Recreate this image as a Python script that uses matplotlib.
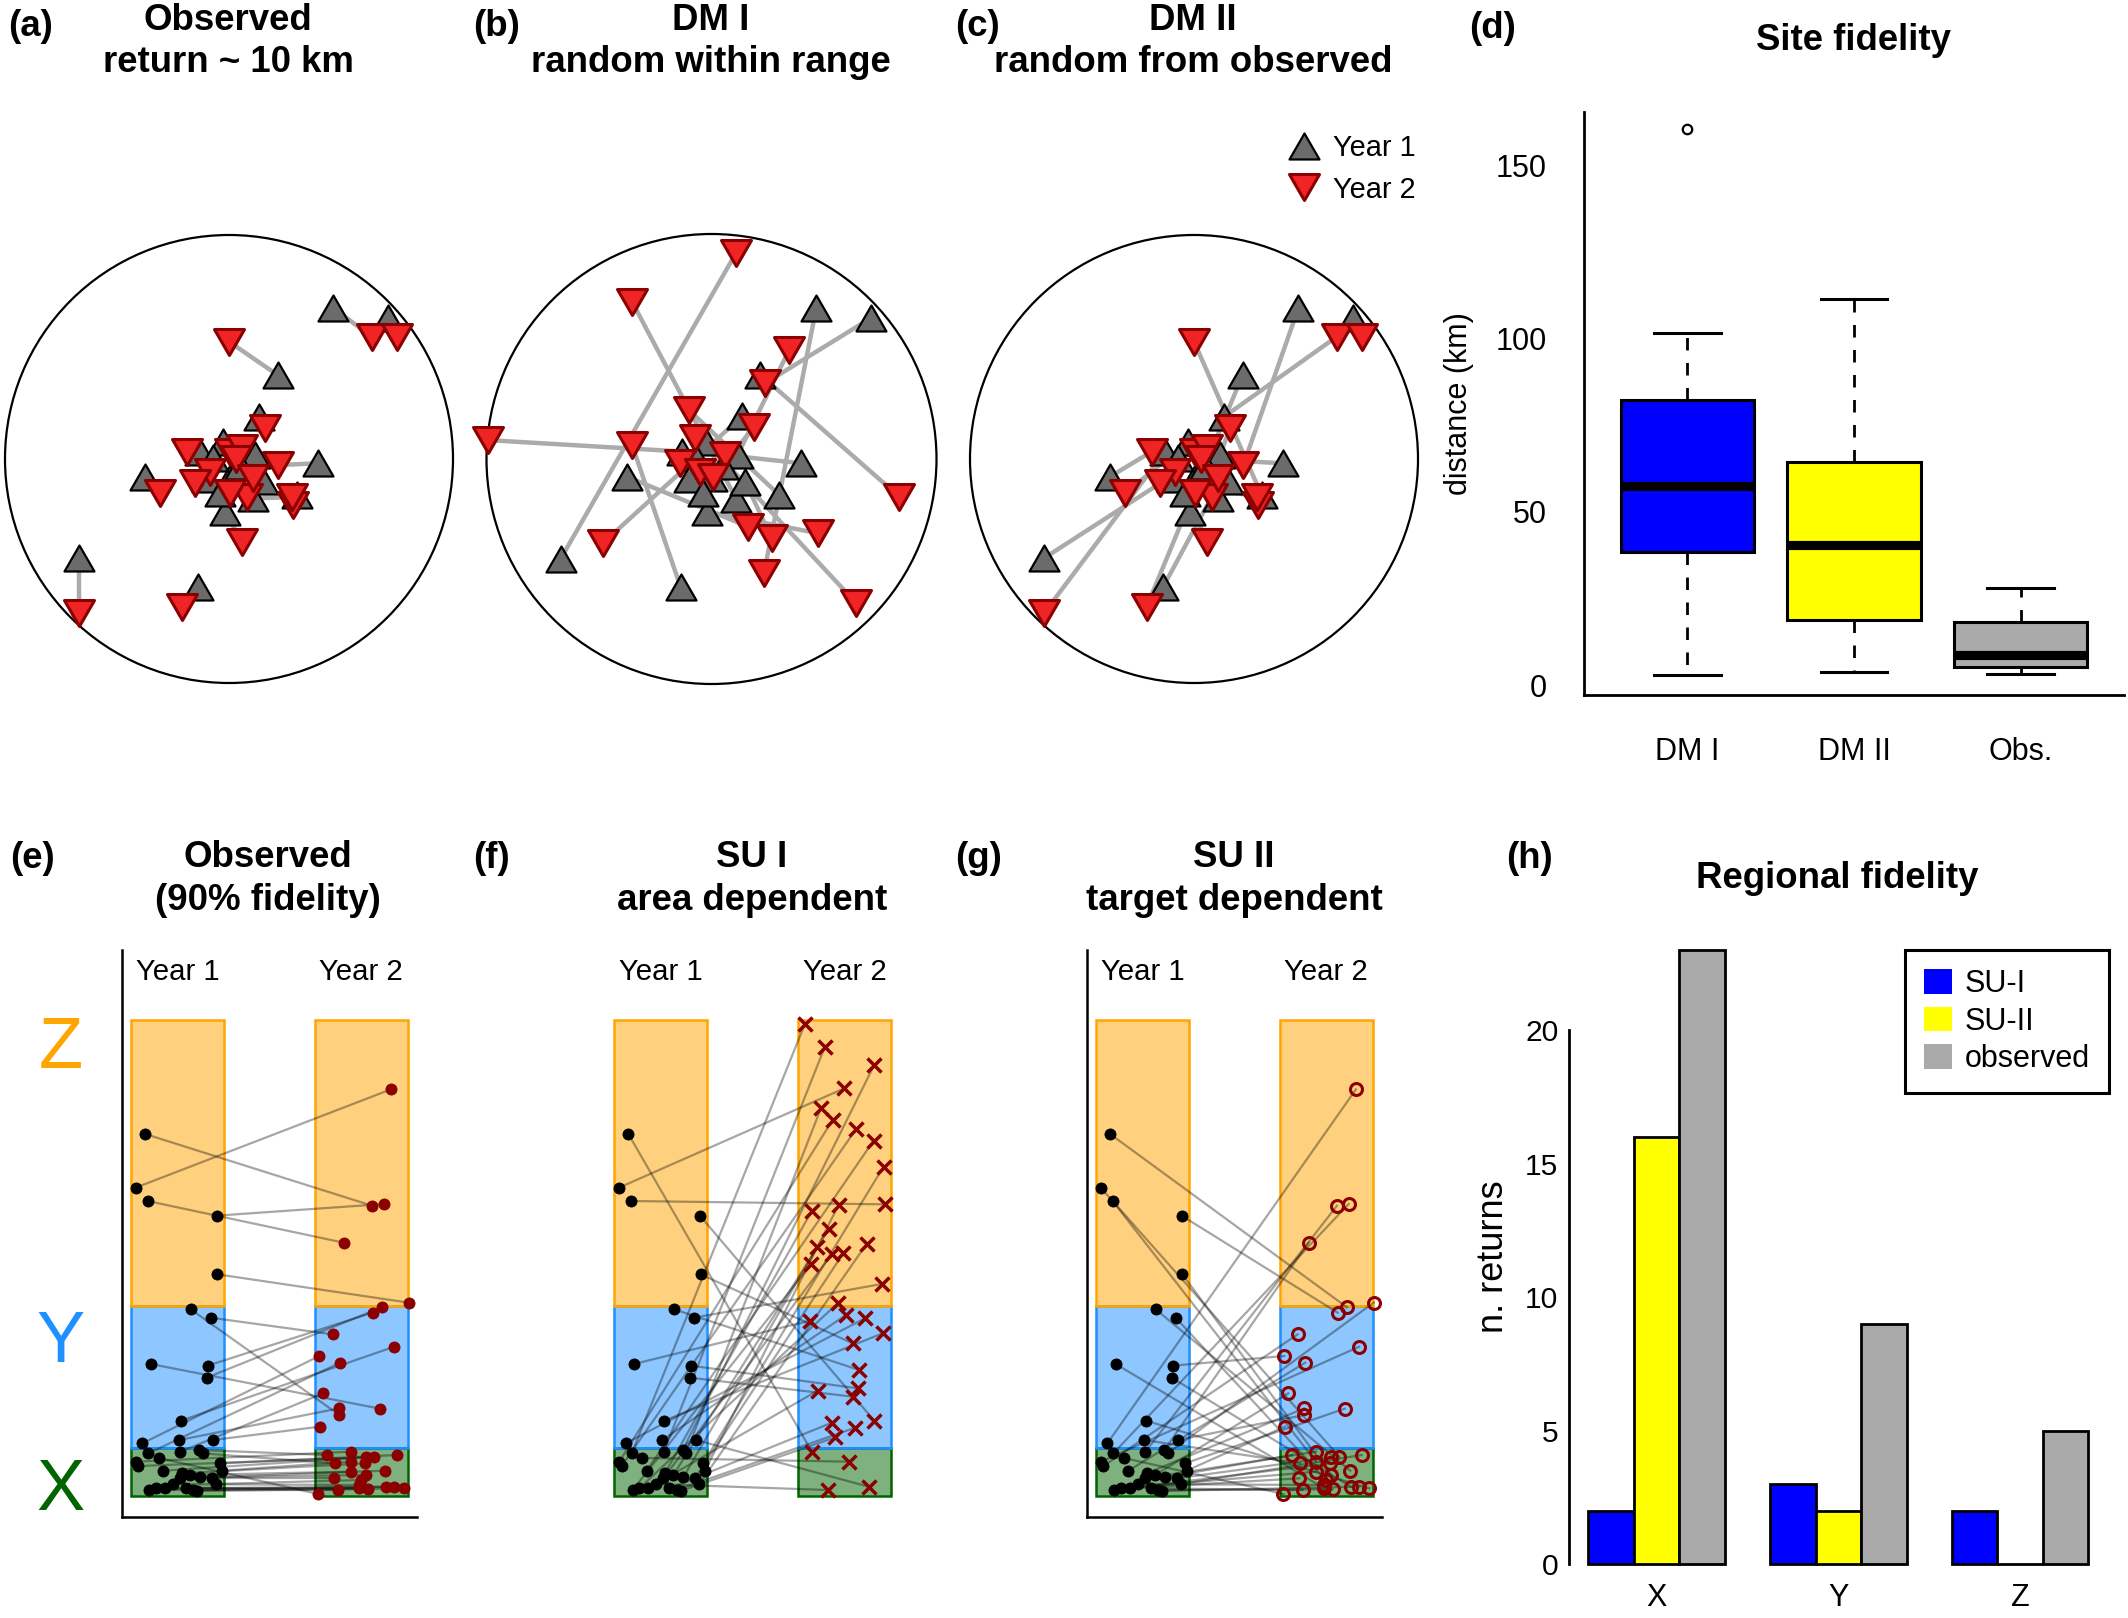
import numpy as np
import matplotlib
matplotlib.use('Agg')
import matplotlib.pyplot as plt
from matplotlib.path import Path
from matplotlib.patches import Rectangle, Circle, Patch
from matplotlib.lines import Line2D

plt.rcParams['font.family'] = ['Liberation Sans', 'DejaVu Sans']

# ---------------- data: panels (a)-(c), positions within home range (radius 1) -------------
yr1_x = [0.466, 0.711, 0.217, 0.135, -0.375, 0.399, -0.129, -0.025, 0.116, 0.302,
         0.109, -0.018, 0.004, -0.670, -0.137, -0.070, 0.050, -0.100, 0.150, -0.040]
yr1_y = [0.673, 0.628, 0.375, 0.189, -0.079, -0.019, 0.033, 0.077, 0.018, -0.161,
         -0.176, -0.235, -0.086, -0.443, -0.570, 0.003, -0.030, -0.090, -0.100, -0.150]
obs_yr2_x = [0.637, 0.749, 0.000, 0.161, -0.308, 0.220, -0.189, 0.004, 0.057, 0.287,
             0.280, 0.057, 0.079, -0.670, -0.211, -0.085, 0.030, -0.152, 0.109, 0.004]
obs_yr2_y = [0.546, 0.546, 0.524, 0.137, -0.153, -0.027, 0.033, 0.033, 0.048, -0.205,
             -0.170, -0.369, -0.168, -0.689, -0.659, -0.057, 0.000, -0.109, -0.086, -0.153]
dm1_yr2_x = [0.233, 0.237, 0.834, -0.484, 0.163, 0.059, -0.993, 0.644, 0.345, -0.101,
             -0.353, 0.474, 0.190, 0.108, -0.353, -0.074, -0.141, -0.052, 0.267, 0.007]
dm1_yr2_y = [-0.508, 0.336, -0.167, -0.375, -0.301, 0.018, 0.084, -0.641, 0.484, 0.218,
             0.699, -0.330, 0.144, 0.914, 0.062, 0.092, -0.019, -0.056, -0.353, -0.079]
obs_pairing = list(range(20))
dm1_pairing = list(range(20))
dm2_pairing = [5, 1, 14, 0, 6, 16, 13, 4, 3, 2, 7, 15, 18, 17, 12, 8, 9, 10, 19, 11]

# ---------------- data: panel (d) boxplot statistics (km) ----------------
box_labels = ['DM I', 'DM II', 'Obs.']
box_whislo = [3.1, 3.7, 3.3]
box_q1 = [38.5, 18.9, 5.4]
box_med = [57.5, 40.4, 8.8]
box_q3 = [82.4, 64.5, 18.2]
box_whishi = [101.7, 111.3, 28.1]
box_fliers = [[160.3], [], []]
box_colors = ['#0000ff', '#ffff00', '#aaaaaa']

# ---------------- data: panels (e)-(g) regions and positions ----------------
region_names = ['X', 'Y', 'Z']
region_bottom = [0, 1, 4]
region_top = [1, 4, 10]
region_edge = ['#006400', '#1e90ff', '#ffa500']

y1_x = [0.154, 0.054, 0.182, 0.921, 0.929, 0.643, 0.857, 0.214, 0.825, 0.814, 0.539, 0.879,
        0.125, 0.518, 0.189, 0.532, 0.736, 0.771, 0.057, 0.082, 0.35, 0.957, 0.975, 0.546,
        0.636, 0.743, 0.529, 0.868, 0.914, 0.2, 0.271, 0.368, 0.593, 0.671, 0.714, 0.3, 0.45]
y1_y = [7.605, 6.478, 6.197, 5.889, 4.657, 3.922, 3.746, 2.773, 2.738, 2.486, 1.583, 1.176,
        1.106, 1.176, 0.896, 0.931, 0.966, 0.896, 0.721, 0.630, 0.532, 0.686, 0.532, 0.476,
        0.441, 0.392, 0.371, 0.371, 0.252, 0.126, 0.161, 0.161, 0.161, 0.126, 0.105, 0.8, 0.25]
obs_y2_x = [2.586, 2.789, 2.282, 2.711, 2.979, 2.236, 2.164, 2.671, 2.593, 2.693, 2.825, 2.029,
            2.021, 2.236, 2.246, 2.064, 2.104, 2.193, 2.361, 2.521, 2.611, 2.85, 2.361, 2.514,
            2.361, 2.521, 2.728, 2.182, 2.468, 2.218, 2.45, 2.539, 2.736, 2.825, 2.932, 2.011, 2.45]
obs_y2_y = [6.099, 8.543, 5.322, 6.134, 4.062, 1.702, 3.396, 1.835, 3.852, 3.964, 3.137, 1.457,
            2.941, 1.842, 2.801, 2.157, 0.861, 0.686, 0.931, 0.812, 0.826, 0.861, 0.721, 0.686,
            0.511, 0.441, 0.532, 0.371, 0.336, 0.126, 0.161, 0.14, 0.196, 0.196, 0.161, 0.042, 0.231]
su1_y2_x = [2.121, 2.468, 2.907, 2.789, 2.557, 2.629, 2.871, 2.1, 2.611, 2.557, 2.879, 2.729,
            2.689, 2.486, 2.046, 2.261, 2.789, 2.218, 2.343, 2.593, 2.782, 2.889, 2.407, 2.121,
            2.3, 2.175, 2.336, 2.457, 2.707, 2.111, 2.404, 2.182, 2.336, 2.586, 2.371, 2.521, 2.289]
su1_y2_y = [0.931, 8.564, 6.127, 1.583, 3.207, 2.647, 4.454, 3.683, 2.262, 2.087, 3.417, 0.196,
            3.733, 3.803, 9.916, 9.44, 9.055, 8.144, 7.899, 7.703, 7.465, 6.919, 6.113, 5.994,
            5.602, 5.224, 5.084, 5.098, 5.294, 4.867, 4.062, 2.213, 1.541, 1.435, 1.232, 0.721, 0.126]
obs_pair = list(range(37))
su1_pair = list(range(37))
su2_pair = [9, 20, 22, 8, 25, 26, 28, 30, 12, 32, 34, 5, 1, 17, 3, 0, 2, 4, 10, 6, 14, 7, 11,
            13, 15, 16, 18, 19, 21, 23, 24, 27, 29, 31, 33, 35, 36]

# ---------------- data: panel (h) ----------------
bar_groups = ['X', 'Y', 'Z']
su1_returns = [2, 3, 2]
su2_returns = [16, 2, 0]
obs_returns = [23, 9, 5]

# ---------------- figure ----------------
W, H = 2128, 1618
DPI = 200
fig = plt.figure(figsize=(W / DPI, H / DPI), dpi=DPI)


def px_axes(x0, y0, x1, y1):
    return fig.add_axes([x0 / W, 1 - y1 / H, (x1 - x0) / W, (y1 - y0) / H])


def ftext(x, y, s, **kw):
    return fig.text(x / W, 1 - y / H, s, **kw)


TITLE_FS = 13.2
tri_up = Path([(0, 0.433), (-0.5, -0.433), (0.5, -0.433), (0, 0.433)],
              [Path.MOVETO, Path.LINETO, Path.LINETO, Path.CLOSEPOLY])
tri_dn = Path([(0, -0.433), (-0.5, 0.433), (0.5, 0.433), (0, -0.433)],
              [Path.MOVETO, Path.LINETO, Path.LINETO, Path.CLOSEPOLY])
TRI_MS = 10.8
GREY_TRI = dict(marker=tri_up, ms=TRI_MS, mfc='#6b6b6b', mec='black', mew=0.8)
RED_TRI = dict(marker=tri_dn, ms=TRI_MS, mfc='#f02424', mec='#8b0000', mew=1.1)


def circle_panel(cx, cy, r, x2, y2, pairing):
    ax = px_axes(cx - r, cy - r, cx + r, cy + r)
    ax.set_xlim(-1, 1)
    ax.set_ylim(-1, 1)
    ax.axis('off')
    ax.add_patch(Circle((0, 0), 1, fill=False, lw=0.8, ec='black', clip_on=False))
    for i, j in enumerate(pairing):
        ax.plot([yr1_x[i], x2[j]], [yr1_y[i], y2[j]], color='#ababab', lw=1.6,
                solid_capstyle='butt', clip_on=False, zorder=1)
    ax.plot(yr1_x, yr1_y, ls='none', clip_on=False, zorder=2, **GREY_TRI)
    ax.plot(x2, y2, ls='none', clip_on=False, zorder=3, **RED_TRI)
    return ax


circle_panel(229, 459, 224, obs_yr2_x, obs_yr2_y, obs_pairing)
circle_panel(711.5, 459, 225, dm1_yr2_x, dm1_yr2_y, dm1_pairing)
circle_panel(1194, 459, 224, obs_yr2_x, obs_yr2_y, dm2_pairing)

handles = [Line2D([], [], ls='none', **GREY_TRI), Line2D([], [], ls='none', **RED_TRI)]
fig.legend(handles, ['Year 1', 'Year 2'], loc='upper left',
           bbox_to_anchor=(1290 / W, 1 - 134 / H), frameon=False, borderpad=0,
           borderaxespad=0, handlelength=1.0, handletextpad=0.5, labelspacing=0.47,
           fontsize=10.4)

# titles row 1
for lab, lx, tx, l1, l2 in [('(a)', 8, 228, 'Observed', 'return ~ 10 km'),
                            ('(b)', 473, 711, 'DM I', 'random within range'),
                            ('(c)', 955, 1193, 'DM II', 'random from observed')]:
    ftext(lx, 27, lab, ha='left', va='center', fontsize=TITLE_FS, fontweight='bold')
    ftext(tx, 21, l1, ha='center', va='center', fontsize=TITLE_FS, fontweight='bold')
    ftext(tx, 63, l2, ha='center', va='center', fontsize=TITLE_FS, fontweight='bold')

# ---------------- panel (d) ----------------
axd = px_axes(1584, 112, 2124, 695)
stats = []
for i in range(3):
    stats.append(dict(label=box_labels[i], whislo=box_whislo[i], q1=box_q1[i], med=box_med[i],
                      q3=box_q3[i], whishi=box_whishi[i], fliers=box_fliers[i]))
bp = axd.bxp(stats, positions=[1, 2, 3], widths=0.8, capwidths=0.4, patch_artist=True,
             showfliers=True,
             boxprops=dict(lw=1.1, edgecolor='black'),
             medianprops=dict(color='black', lw=3.3, solid_capstyle='butt'),
             whiskerprops=dict(color='black', lw=1.0, ls=(0, (4.5, 4.5))),
             capprops=dict(color='black', lw=1.1),
             flierprops=dict(marker='o', mfc='none', mec='black', ms=3.4, mew=0.8))
for patch, c in zip(bp['boxes'], box_colors):
    patch.set_facecolor(c)
axd.set_xlim(0.38, 3.62)
axd.set_ylim(-2.8, 165.3)
axd.set_yticks([0, 50, 100, 150])
axd.spines['top'].set_visible(False)
axd.spines['right'].set_visible(False)
for s in ['left', 'bottom']:
    axd.spines[s].set_linewidth(1.0)
axd.tick_params(axis='y', length=0, pad=13.5, labelsize=11)
axd.tick_params(axis='x', length=0, pad=15, labelsize=11)
axd.set_ylabel('distance (km)', fontsize=11)
axd.yaxis.set_label_coords(-0.203, 0.5)
ftext(1469, 28, '(d)', ha='left', va='center', fontsize=TITLE_FS, fontweight='bold')
ftext(1853, 41, 'Site fidelity', ha='center', va='center', fontsize=TITLE_FS, fontweight='bold')

# ---------------- panels (e)-(g) ----------------
def region_panel(rect_left, show_axes, x2, y2, pairing, y2style):
    unit = 93.3
    x0 = rect_left - 0.0965 * unit
    ax = px_axes(x0, 950, x0 + 3.1665 * unit, 1517)
    ax.set_xlim(-0.0965, 3.07)
    ax.set_ylim(-0.441, 11.47)
    for k in range(3):
        fill = matplotlib.colors.to_rgba(region_edge[k], 0.5)
        for col in (0, 1.97):
            ax.add_patch(Rectangle((col, region_bottom[k]), 1, region_top[k] - region_bottom[k],
                                   facecolor=fill, edgecolor=region_edge[k], lw=0.9, zorder=1))
    for i, j in enumerate(pairing):
        ax.plot([y1_x[i], x2[j]], [y1_y[i], y2[j]], color='black', alpha=0.35, lw=0.8,
                zorder=2, clip_on=False)
    ax.plot(y1_x, y1_y, ls='none', marker='o', ms=4.0, mfc='black', mec='black', mew=0.3,
            zorder=3, clip_on=False)
    ax.plot(x2, y2, ls='none', zorder=4, clip_on=False, **y2style)
    ax.set_xticks([])
    ax.set_yticks([])
    for s in ['top', 'right']:
        ax.spines[s].set_visible(False)
    for s in ['left', 'bottom']:
        ax.spines[s].set_visible(show_axes)
        ax.spines[s].set_linewidth(0.9)
    ax.patch.set_alpha(0)
    yl = rect_left + 0.5 * unit
    ftext(yl, 972, 'Year 1', ha='center', va='center', fontsize=10.6)
    ftext(yl + 1.97 * unit, 972, 'Year 2', ha='center', va='center', fontsize=10.6)
    return ax


region_panel(130.7, True, obs_y2_x, obs_y2_y, obs_pair,
             dict(marker='o', ms=4.0, mfc='#8b0000', mec='#8b0000', mew=0.3))
region_panel(614.0, False, su1_y2_x, su1_y2_y, su1_pair,
             dict(marker='x', ms=5.2, mec='#8b0000', mew=1.25))
region_panel(1095.7, True, obs_y2_x, obs_y2_y, su2_pair,
             dict(marker='o', ms=4.3, mfc='none', mec='#8b0000', mew=1.1))

ftext(61, 1049, 'Z', ha='center', va='center', fontsize=26, color='#ffa500')
ftext(61, 1344, 'Y', ha='center', va='center', fontsize=26, color='#1e90ff')
ftext(61, 1491, 'X', ha='center', va='center', fontsize=26, color='#006400')

for lab, lx, tx, l1, l2 in [('(e)', 10, 268, 'Observed', '(90% fidelity)'),
                            ('(f)', 473, 752, 'SU I', 'area dependent'),
                            ('(g)', 955, 1234, 'SU II', 'target dependent')]:
    ftext(lx, 859, lab, ha='left', va='center', fontsize=TITLE_FS, fontweight='bold')
    ftext(tx, 857, l1, ha='center', va='center', fontsize=TITLE_FS, fontweight='bold')
    ftext(tx, 901, l2, ha='center', va='center', fontsize=TITLE_FS, fontweight='bold')

# ---------------- panel (h) ----------------
axh = px_axes(1569.4, 950, 2108.8, 1564)
series = [su1_returns, su2_returns, obs_returns]
series_colors = ['#0000ff', '#ffff00', '#aaaaaa']
series_labels = ['SU-I', 'SU-II', 'observed']
for k, vals in enumerate(series):
    centers = [1 + 4 * g + k + 0.5 for g in range(len(bar_groups))]
    axh.bar(centers, vals, width=1.0, color=series_colors[k], edgecolor='black', lw=1.0,
            clip_on=False)
axh.set_xlim(0.582, 12.45)
axh.set_ylim(0, 23)
axh.set_xticks([1 + 4 * g + 1.5 for g in range(len(bar_groups))])
axh.set_xticklabels(bar_groups)
axh.set_yticks([0, 5, 10, 15, 20])
axh.spines['left'].set_bounds(0, 20)
axh.spines['left'].set_linewidth(1.0)
for s in ['top', 'right', 'bottom']:
    axh.spines[s].set_visible(False)
axh.tick_params(axis='y', length=0, pad=4, labelsize=10.8)
axh.tick_params(axis='x', length=0, pad=7, labelsize=11)
axh.set_ylabel('n. returns', fontsize=13)
axh.yaxis.set_label_coords(-0.108, 0.5)
leg = axh.legend([Patch(facecolor=c, edgecolor='none') for c in series_colors], series_labels,
                 loc='upper right', bbox_to_anchor=(1.0, 1), borderaxespad=0, frameon=True,
                 fancybox=False, framealpha=1, edgecolor='black', fontsize=11,
                 handlelength=0.9, handleheight=0.85, handletextpad=0.42, borderpad=0.62,
                 labelspacing=0.25)
leg.get_frame().set_linewidth(1.1)
ftext(1506, 859, '(h)', ha='left', va='center', fontsize=TITLE_FS, fontweight='bold')
ftext(1837, 879, 'Regional fidelity', ha='center', va='center', fontsize=TITLE_FS,
      fontweight='bold')

fig.savefig('out.png', dpi=DPI)
